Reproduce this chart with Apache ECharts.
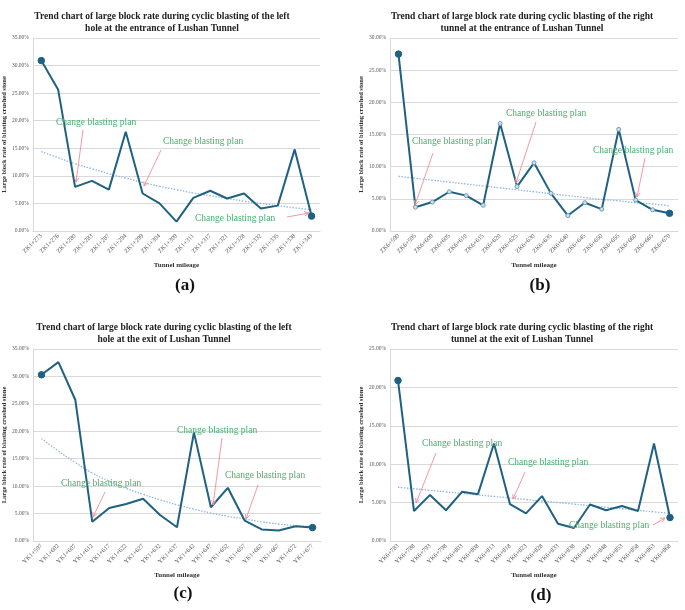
<!DOCTYPE html>
<html>
<head>
<meta charset="utf-8">
<script src="https://cdn.jsdelivr.net/npm/echarts@6/dist/echarts.min.js"></script>
<style>
html,body{margin:0;padding:0;background:#fff;}
#main{width:685px;height:610px;}
</style>
</head>
<body>
<div id="main"></div>
<script>
// ---------- DATA ----------
const catA = ['ZK1+273','ZK1+276','ZK1+280','ZK1+283','ZK1+287','ZK1+294','ZK1+299','ZK1+304','ZK1+309','ZK1+311','ZK1+317','ZK1+321','ZK1+328','ZK1+332','ZK1+335','ZK1+338','ZK1+343'];
const valA = [30.9,25.6,8.0,9.1,7.5,18.0,6.8,5.0,1.7,6.0,7.3,5.9,6.8,4.1,4.6,14.8,2.7];
const trendA = [14.4,13.3,12.2,11.3,10.4,9.6,8.8,8.1,7.5,6.9,6.4,5.9,5.4,5.0,4.6,4.2,3.9];

const catB = ['ZK6+590','ZK6+595','ZK6+600','ZK6+605','ZK6+610','ZK6+615','ZK6+620','ZK6+625','ZK6+630','ZK6+635','ZK6+640','ZK6+645','ZK6+650','ZK6+655','ZK6+660','ZK6+665','ZK6+670'];
const valB = [27.5,3.7,4.5,6.1,5.5,4.0,16.7,6.9,10.6,5.85,2.4,4.4,3.4,15.8,4.8,3.3,2.75];
const trendB = [8.5,8.2,7.9,7.6,7.3,7.0,6.7,6.4,6.1,5.8,5.5,5.2,4.9,4.7,4.4,4.2,3.9];

const catC = ['YK1+597','YK1+602','YK1+607','YK1+612','YK1+617','YK1+622','YK1+627','YK1+632','YK1+637','YK1+642','YK1+647','YK1+652','YK1+657','YK1+662','YK1+667','YK1+672','YK1+677'];
const valC = [30.3,32.6,25.7,3.5,6.0,6.75,7.7,4.75,2.5,19.8,6.15,9.7,3.7,2.1,1.9,2.7,2.45];
const trendC = [18.7,16.4,14.3,12.4,10.9,9.6,8.5,7.5,6.6,5.8,5.1,4.5,4.0,3.5,3.1,2.8,2.6];

const catD = ['YK6+783','YK6+788','YK6+793','YK6+798','YK6+803','YK6+808','YK6+813','YK6+818','YK6+823','YK6+828','YK6+833','YK6+838','YK6+843','YK6+848','YK6+853','YK6+858','YK6+863','YK6+868'];
const valD = [20.9,3.9,6.0,4.0,6.4,6.1,12.7,4.8,3.6,5.85,2.25,1.7,4.75,4.0,4.55,3.9,12.7,3.05];
const trendD = [7.0,6.8,6.6,6.4,6.2,6.0,5.8,5.6,5.4,5.2,5.0,4.8,4.6,4.4,4.2,4.0,3.8,3.6];

const titles = [
  'Trend chart of large block rate during cyclic blasting of the left\nhole at the entrance of Lushan Tunnel',
  'Trend chart of large block rate during cyclic blasting of the right\ntunnel at the entrance of Lushan Tunnel',
  'Trend chart of large block rate during cyclic blasting of the left\nhole at the exit of Lushan Tunnel',
  'Trend chart of large block rate during cyclic blasting of the right\ntunnel at the exit of Lushan Tunnel'
];
const panelLabels = ['(a)','(b)','(c)','(d)'];
const yMax = [35, 30, 35, 25];
const noteText = 'Change blasting plan';
// ---------- LAYOUT / STYLE ----------
const SERIF = '"Liberation Serif","Times New Roman",serif';
const LINE = '#1f6182';
const TREND = '#8fb6e0';
const GREEN = '#45b06f';
const PINK = '#f08d98';

const grids = [
  {left:32, right:365, top:38, bottom:379},
  {left:390, right:7, top:38, bottom:379},
  {left:33, right:364, top:349, bottom:69},
  {left:390, right:7, top:349, bottom:69}
];
const cats = [catA, catB, catC, catD];
const vals = [valA, valB, valC, valD];
const trends = [trendA, trendB, trendC, trendD];
const titleX = [157, 517, 159, 517];
const titleY = [6, 6, 317, 317];
const labelPos = [[180,272],[535,272],[178,580],[536,582]];

const option = {
  backgroundColor:'#fff',
  animation:false,
  title: [],
  grid: grids,
  xAxis: [], yAxis: [], series: [],
  graphic: []
};

for (let k=0;k<4;k++){
  option.title.push({
    text: titles[k], left: titleX[k], top: titleY[k], textAlign:'center',
    textStyle:{fontFamily:SERIF, fontWeight:'bold', fontSize:9.5, color:'#222', lineHeight:12}
  });
  option.title.push({
    text: panelLabels[k], left: labelPos[k][0], top: labelPos[k][1], textAlign:'center',
    textStyle:{fontFamily:SERIF, fontWeight:'bold', fontSize:17, color:'#111'}
  });
  option.xAxis.push({
    type:'category', gridIndex:k, data:cats[k], boundaryGap:true,
    name:'Tunnel mileage', nameLocation:'middle', nameGap:31,
    nameTextStyle:{fontFamily:SERIF, fontWeight:'bold', fontSize:7, color:'#333'},
    axisLine:{lineStyle:{color:'#d9d9d9'}},
    axisTick:{show:false},
    axisLabel:{rotate:45, interval:0, fontFamily:SERIF, fontSize:6.3, color:'#595959', margin:4}
  });
  option.yAxis.push({
    type:'value', gridIndex:k, min:0, max:yMax[k], interval:5,
    name:'Large block rate of blasting crushed stone', nameLocation:'middle', nameGap:23, nameRotate:90,
    nameTextStyle:{fontFamily:SERIF, fontWeight:'bold', fontSize:6.5, color:'#333'},
    axisLine:{show:true, lineStyle:{color:'#d9d9d9'}},
    axisTick:{show:false},
    splitLine:{lineStyle:{color:'#d9d9d9', width:1}},
    axisLabel:{fontFamily:SERIF, fontSize:5.5, color:'#595959', margin:4,
      formatter: v => v.toFixed(2)+'%'}
  });
  const last = vals[k].length-1;
  const allMarkers = (k===1);
  option.series.push({
    type:'line', xAxisIndex:k, yAxisIndex:k, z:5,
    data: vals[k].map((v,i)=>{
      const end = (i===0||i===last);
      if (end) return {value:v, symbol:'circle', symbolSize:6.5, itemStyle:{color:LINE, borderColor:LINE}};
      if (allMarkers) return {value:v, symbol:'circle', symbolSize:4, itemStyle:{color:'#cfe0ea', borderColor:'#6b9db5', borderWidth:1}};
      return {value:v, symbol:'none'};
    }),
    showAllSymbol:true,
    lineStyle:{color:LINE, width:2},
    itemStyle:{color:LINE}
  });
  option.series.push({
    type:'line', xAxisIndex:k, yAxisIndex:k, z:3, smooth:true,
    data: trends[k], symbol:'none',
    lineStyle:{color:TREND, width:1.3, type:[1.5,1.5]}
  });
}

// annotations: [text left x, text center y, arrow from x,y, arrow to x,y]
const notes = [
  [56,123, 83,130, 76,182],
  [163,142, 161,150, 144,186],
  [195,219, 287,217, 309,213],
  [412,142, 433,153, 415,205],
  [506,114, 536,122, 516,183],
  [593,151, 645,158, 637,197],
  [61,484, 105,492, 93,517],
  [177,431, 222,438, 213,505],
  [225,476, 258,485, 246,519],
  [422,444, 436,453, 416,503],
  [508,463, 525,472, 513,499],
  [569,526, 653,525, 665,518]
];
notes.forEach(n=>{
  option.graphic.push({
    type:'text', left:n[0], top:n[1]-6, z:20,
    style:{text:noteText, fill:GREEN, font:'9.5px '+SERIF}
  });
  const [x1,y1,x2,y2] = [n[2],n[3],n[4],n[5]];
  const ang = Math.atan2(y2-y1, x2-x1);
  const h = 5, a = 0.45;
  option.graphic.push({
    type:'polyline', z:19, shape:{points:[[x1,y1],[x2,y2]]},
    style:{stroke:PINK, lineWidth:0.9, fill:null}
  });
  option.graphic.push({
    type:'polyline', z:19,
    shape:{points:[[x2-h*Math.cos(ang-a), y2-h*Math.sin(ang-a)],[x2,y2],[x2-h*Math.cos(ang+a), y2-h*Math.sin(ang+a)]]},
    style:{stroke:PINK, lineWidth:0.9, fill:null}
  });
});

const chart = echarts.init(document.getElementById('main'), null, {renderer:'canvas'});
chart.setOption(option);
</script>
</body>
</html>
